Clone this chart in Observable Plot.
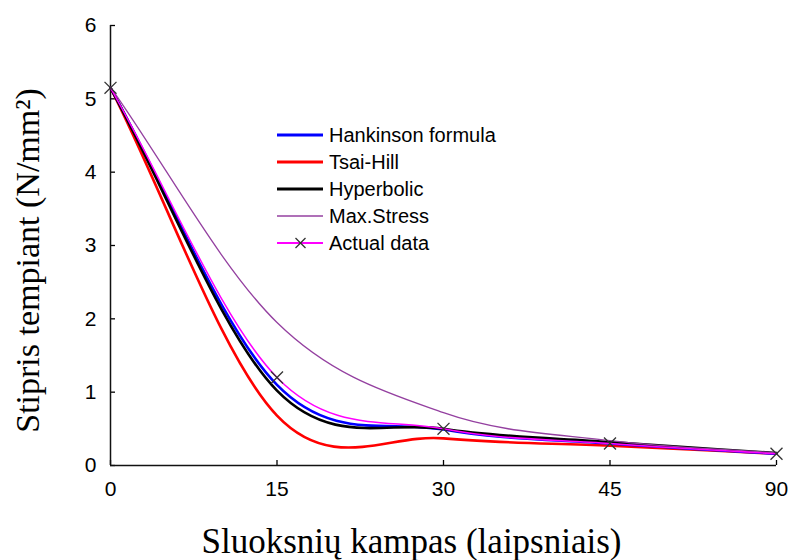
<!DOCTYPE html>
<html>
<head>
<meta charset="utf-8">
<script src="https://cdn.jsdelivr.net/npm/d3@7"></script>
<script src="https://cdn.jsdelivr.net/npm/@observablehq/plot@0.6"></script>
<style>
  body { margin: 0; background: #fff; }
  #chart { position: relative; width: 793px; height: 560px; }
  #chart svg { position: absolute; left: 0; top: 0; }
</style>
</head>
<body>
<div id="chart"></div>
<script>
// Fibre angle categories (equally spaced on the axis)
const angles = ["0", "15", "30", "45", "90"];

// Tensile strength, N/mm², at each angle
const hankinson  = [5.15, 1.10, 0.49, 0.30, 0.16];
const tsaiHill   = [5.15, 0.68, 0.37, 0.27, 0.16];
const hyperbolic = [5.15, 1.02, 0.50, 0.32, 0.17];
const maxStress  = [5.16, 1.95, 0.72, 0.34, 0.17];
const actual     = [5.15, 1.20, 0.50, 0.30, 0.16];

const seriesNames  = ["Hankinson formula", "Tsai-Hill", "Hyperbolic", "Max.Stress", "Actual data"];
const seriesColors = ["#0000ff", "#ff0000", "#000000", "#9440a0", "#ff00ff"];
const seriesWidths = [2.6, 2.6, 2.6, 1.3, 1.5];

const yTicks = [0, 1, 2, 3, 4, 5, 6];

// Smoothed line: cubic Bezier segments, interior tangents from the
// neighbouring points, end tangents along the first/last chord.
function smoothCurve(context) {
  let pts;
  return {
    areaStart() {}, areaEnd() {},
    lineStart() { pts = []; },
    point(x, y) { pts.push([+x, +y]); },
    lineEnd() {
      const n = pts.length;
      if (!n) return;
      context.moveTo(pts[0][0], pts[0][1]);
      if (n === 1) return;
      const tan = pts.map((p, i) => {
        const a = pts[Math.max(0, i - 1)], b = pts[Math.min(n - 1, i + 1)];
        const k = (i === 0 || i === n - 1) ? 1 : 0.5;
        return [(b[0] - a[0]) * k, (b[1] - a[1]) * k];
      });
      for (let i = 0; i < n - 1; i++) {
        const p = pts[i], q = pts[i + 1];
        context.bezierCurveTo(
          p[0] + tan[i][0] / 3, p[1] + tan[i][1] / 3,
          q[0] - tan[i + 1][0] / 3, q[1] - tan[i + 1][1] / 3,
          q[0], q[1]
        );
      }
    }
  };
}

const rows = values => values.map((v, i) => ({pos: i, value: v}));
const seriesValues = [hankinson, tsaiHill, hyperbolic, maxStress, actual];
// drawing order: red, blue, black, purple, magenta on top
const drawOrder = [1, 0, 2, 3, 4];

const serif = "'Liberation Serif', 'Times New Roman', serif";

const plot = Plot.plot({
  width: 793,
  height: 560,
  marginLeft: 110,
  marginRight: 17,
  marginTop: 25,
  marginBottom: 95,
  style: {fontFamily: "'Liberation Sans', Arial, sans-serif", fontSize: "21px", color: "#000", background: "#fff"},
  x: {domain: [0, angles.length - 1], label: null},
  y: {domain: [0, 6], label: null},
  marks: [
    Plot.axisX({
      ticks: d3.range(angles.length), tickFormat: i => angles[i],
      tickSize: -5, tickPadding: 21, label: null, fontSize: 21, strokeWidth: 1.3
    }),
    Plot.axisY({
      ticks: yTicks, tickFormat: d => String(d),
      tickSize: -5, tickPadding: 19, label: null, fontSize: 21, strokeWidth: 1.3
    }),
    Plot.ruleX([0], {stroke: "#111", strokeWidth: 1.5}),
    Plot.ruleY([0], {stroke: "#111", strokeWidth: 1.5}),
    ...drawOrder.map(k => Plot.line(rows(seriesValues[k]), {
      x: "pos", y: "value",
      stroke: seriesColors[k], strokeWidth: seriesWidths[k],
      curve: smoothCurve
    })),
    Plot.dot(rows(actual), {
      x: "pos", y: "value", symbol: "times", r: 5.5,
      stroke: "#333", strokeWidth: 1.3
    }),
    Plot.text(["Sluoksnių kampas (laipsniais)"], {
      frameAnchor: "bottom", dx: -32, dy: 76, lineAnchor: "middle", textAnchor: "middle",
      fontFamily: serif, fontSize: 35
    }),
    Plot.text(["Stipris tempiant (N/mm²)"], {
      frameAnchor: "left", dx: -82, dy: 15, rotate: -90, lineAnchor: "middle", textAnchor: "middle",
      fontFamily: serif, fontSize: 34
    })
  ]
});

const chart = document.getElementById("chart");
chart.appendChild(plot);

// Legend drawn over the plot area
const legend = d3.select(chart).append("svg")
  .attr("width", 793).attr("height", 560)
  .style("pointer-events", "none");
const rowY = [135, 162, 189, 216, 243];
seriesNames.forEach((name, k) => {
  const g = legend.append("g").attr("transform", `translate(0,${rowY[k]})`);
  g.append("line")
    .attr("x1", 277).attr("x2", 323).attr("y1", 0).attr("y2", 0)
    .attr("stroke", seriesColors[k]).attr("stroke-width", seriesWidths[k] + 0.4);
  if (k === 4) {
    g.append("path").attr("d", "M295.5,-5L305.5,5M295.5,5L305.5,-5")
      .attr("stroke", "#333").attr("stroke-width", 1.3);
  }
  g.append("text")
    .attr("x", 329).attr("y", 0).attr("dy", "0.35em")
    .attr("font-family", "'Liberation Sans', Arial, sans-serif")
    .attr("font-size", 20).attr("fill", "#000")
    .text(name);
});
</script>
</body>
</html>
